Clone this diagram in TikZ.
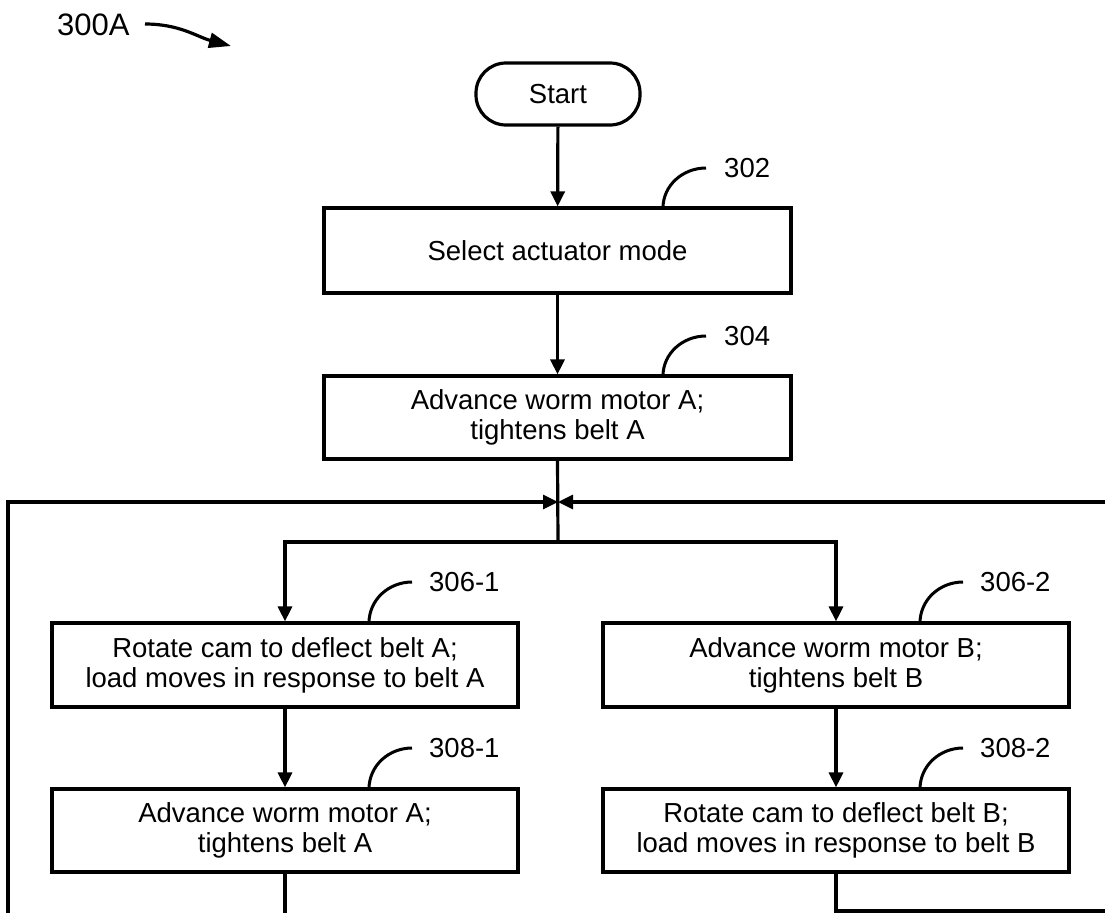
\documentclass[tikz,border=0pt]{standalone}
\usepackage{fontspec}
\setmainfont{Liberation Sans}
\usetikzlibrary{arrows.meta}
\begin{document}
\begin{tikzpicture}[x=1pt,y=-1pt,
  every node/.style={font=\fontsize{27.5}{30}\selectfont},
  box/.style={draw,line width=3.2pt,inner sep=0pt,align=center,minimum width=467pt,minimum height=84pt},
  startbox/.style={draw,line width=3.2pt,rounded corners=30pt,minimum width=164pt,minimum height=62pt,inner sep=0pt},
  lbl/.style={inner sep=0pt,anchor=west},
  conn/.style={line width=3.2pt},
  arr/.style={conn,-{Triangle[length=15pt,width=14pt]}},
  lead/.style={line width=3pt}
]
\useasboundingbox (0,0) rectangle (1105,913);

% title
\node[lbl,font=\fontsize{31}{35}\selectfont] (t300) at (57,25) {300A};
\coordinate (t300tip) at (231,46);
\draw[line width=3.2pt,-{Triangle[length=22pt,width=15pt]}] (145,24) to[out=0,in=165] (t300tip);

% nodes
\node[startbox] (start) at (558,94) {Start};
\node[box,minimum height=85pt] (b302) at (557.5,250.5) {Select actuator mode};
\node[box,minimum height=83pt] (b304) at (557.5,417.5) {Advance worm motor A;\\tightens belt A};
\node[box,minimum width=466pt] (b3061) at (285,665) {Rotate cam to deflect belt A;\\load moves in response to belt A};
\node[box,minimum width=466pt] (b3062) at (836,665) {Advance worm motor B;\\tightens belt B};
\node[box,minimum width=466pt,minimum height=83pt] (b3081) at (285,830.5) {Advance worm motor A;\\tightens belt A};
\node[box,minimum width=466pt,minimum height=83pt] (b3082) at (836,830.5) {Rotate cam to deflect belt B;\\load moves in response to belt B};

% reference labels
\node[lbl] (l302) at (724,168) {302};
\node[lbl] (l304) at (724,336) {304};
\node[lbl] (l3061) at (429,582) {306-1};
\node[lbl] (l3062) at (980,582) {306-2};
\node[lbl] (l3081) at (429,748) {308-1};
\node[lbl] (l3082) at (980,748) {308-2};

\draw[lead] (663,208) to[out=90,in=180] ([xshift=-18pt]l302.west);
\draw[lead] (663,376) to[out=90,in=180] ([xshift=-18pt]l304.west);
\draw[lead] (369,623) to[out=90,in=180] ([xshift=-17pt]l3061.west);
\draw[lead] (920,623) to[out=90,in=180] ([xshift=-17pt]l3062.west);
\draw[lead] (369,789) to[out=90,in=180] ([xshift=-17pt]l3081.west);
\draw[lead] (920,789) to[out=90,in=180] ([xshift=-17pt]l3082.west);

% connectors
\coordinate (jn) at (558,502);
\coordinate (br) at (558,542);
\coordinate (fl) at (8,913);
\coordinate (fr) at (1105,502);
\coordinate (bl) at (285,913);
\coordinate (brr) at (1105,911);

\draw[arr] (start) -- (b302);
\draw[arr] (b302) -- (b304);
\draw[conn] (b304.south) -- (br);
\draw[arr] (br) -| (b3061.north);
\draw[arr] (br) -| (b3062.north);
\draw[arr] (b3061) -- (b3081);
\draw[arr] (b3062) -- (b3082);
\draw[arr] (fl) |- (jn);
\draw[arr] (fr) -- (jn);
\draw[conn] (b3081.south) -- (bl);
\draw[conn] (b3082.south) |- (brr);
\end{tikzpicture}
\end{document}
